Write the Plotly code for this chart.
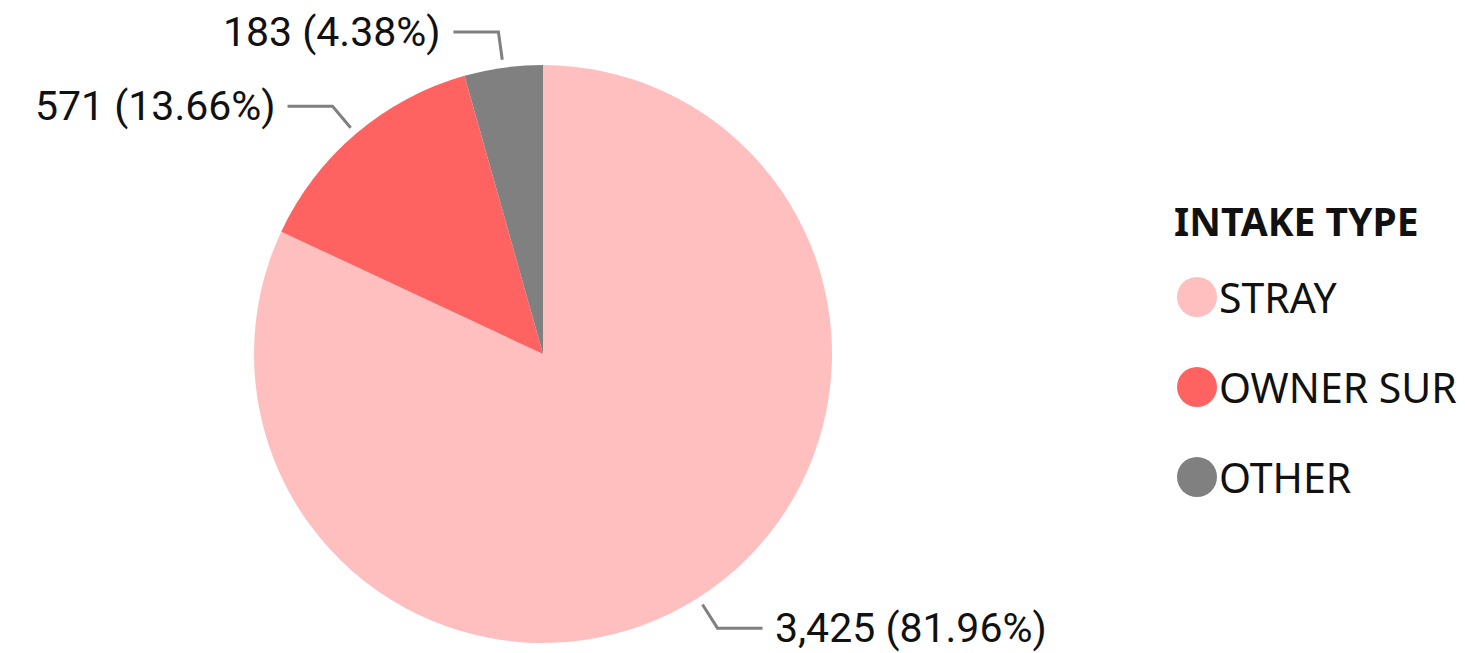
import math
import plotly.graph_objects as go

categories = ["STRAY", "OWNER SUR", "OTHER"]
counts = [3425, 571, 183]
colors = ["#FFBFBF", "#FF6361", "#808080"]
legend_title = "INTAKE TYPE"

WIN_W, WIN_H = 1465, 653
OFF = 8  # page body margin
W, H = WIN_W - OFF, WIN_H - OFF
CX, CY, R = 543, 354, 289  # pie centre / radius in window pixels


def px(x):
    return (x - OFF) / W


def py(y):
    return 1 - (y - OFF) / H


fig = go.Figure()
fig.add_trace(go.Pie(
    labels=categories, values=counts, sort=False, direction="clockwise",
    rotation=0, marker=dict(colors=colors, line=dict(width=0)),
    textinfo="none", hoverinfo="label+value+percent", showlegend=False,
    domain=dict(x=[px(CX - R), px(CX + R)], y=[py(CY + R), py(CY - R)]),
))

shapes = []
annotations = []
total = sum(counts)
cum = 0
label_font = dict(family="Roboto", size=41, color="#111111")
for name, v in zip(categories, counts):
    frac_mid = (cum + v / 2) / total
    cum += v
    th = 2 * math.pi * frac_mid
    sx, sy = math.sin(th), -math.cos(th)
    x0, y0 = CX + (R + 8) * sx, CY + (R + 8) * sy
    x1, y1 = CX + (R + 36) * sx, CY + (R + 36) * sy
    side = 1 if sx >= 0 else -1
    x2 = x1 + side * 45
    shapes.append(dict(type="path", xref="paper", yref="paper",
                       path=f"M {px(x0)} {py(y0)} L {px(x1)} {py(y1)} L {px(x2)} {py(y1)}",
                       line=dict(color="#808080", width=3)))
    pct = v / total * 100
    annotations.append(dict(
        xref="paper", yref="paper", x=px(x2 + side * 10), y=py(y1),
        xanchor="left" if side > 0 else "right", yanchor="middle",
        text=f"{v:,} ({pct:.2f}%)", showarrow=False, font=label_font))

# legend
annotations.append(dict(xref="paper", yref="paper", x=px(1172), y=py(220),
                        xanchor="left", yanchor="middle", showarrow=False,
                        text=f"<b>{legend_title}</b>",
                        font=dict(family="Noto Sans", size=39, color="#111111")))
for i, (name, c) in enumerate(zip(categories, colors)):
    yc = 297 + 90 * i
    shapes.append(dict(type="circle", xref="paper", yref="paper",
                       x0=px(1177), x1=px(1217), y0=py(yc - 20), y1=py(yc + 20),
                       fillcolor=c, line=dict(width=0)))
    annotations.append(dict(xref="paper", yref="paper", x=px(1217), y=py(yc),
                            xanchor="left", yanchor="middle", showarrow=False,
                            text=name,
                            font=dict(family="Noto Sans", size=41, color="#111111")))

fig.update_layout(width=W, height=H, margin=dict(l=0, r=0, t=0, b=0),
                  paper_bgcolor="white", plot_bgcolor="white",
                  shapes=shapes, annotations=annotations, showlegend=False)
fig.write_html("out.html")
